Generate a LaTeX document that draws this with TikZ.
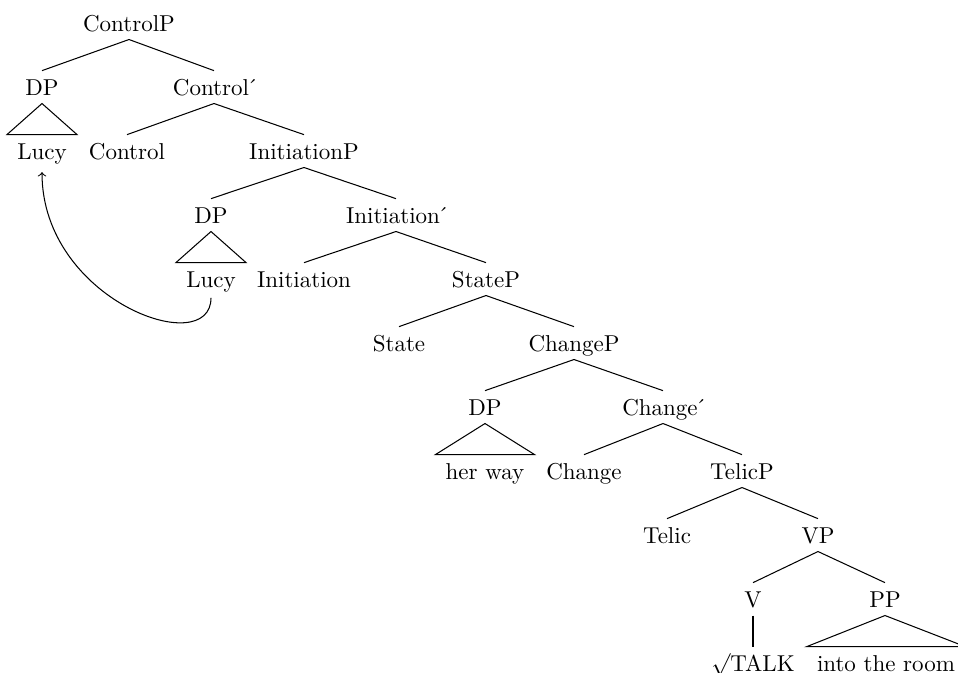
\documentclass[tikz,border=0pt]{standalone}
\newcommand{\barlevel}{\kern-1.2pt´\kern-1.2pt}
\begin{document}
\begin{tikzpicture}[
  x=0.435pt, y=-0.435pt,
  tn/.style={anchor=base, inner xsep=0pt, inner ysep=0pt,
             text height=10.4pt, text depth=3.5pt},
  tri/.style={tn, inner xsep=4.3pt},
  branch/.style={line width=0.45pt},
  movearrow/.style={->, line width=0.45pt, shorten <=1pt, shorten >=2pt}
]
\useasboundingbox (0,0) rectangle (958,672);

% tree nodes, placed on their baselines
\node[tn]  (controlP)  at (129,31)  {ControlP};
\node[tn]  (dpA)       at (42,95)   {DP};
\node[tn]  (controlB)  at (214,95)  {Control\barlevel};
\node[tri] (lucyA)     at (42,159)  {Lucy};
\node[tn]  (control)   at (127,159) {Control};
\node[tn]  (initP)     at (304,159) {InitiationP};
\node[tn]  (dpB)       at (211,223) {DP};
\node[tn]  (initB)     at (396,223) {Initiation\barlevel};
\node[tri] (lucyB)     at (211,287) {Lucy};
\node[tn]  (init)      at (304,287) {Initiation};
\node[tn]  (stateP)    at (486,287) {StateP};
\node[tn]  (state)     at (399,351) {State};
\node[tn]  (changeP)   at (574,351) {ChangeP};
\node[tn]  (dpC)       at (485,415) {DP};
\node[tn]  (changeB)   at (663,415) {Change\barlevel};
\node[tri] (herway)    at (485,479) {her way};
\node[tn]  (change)    at (584,479) {Change};
\node[tn]  (telicP)    at (742,479) {TelicP};
\node[tn]  (telic)     at (667,543) {Telic};
\node[tn]  (vp)        at (818,543) {VP};
\node[tn]  (v)         at (753,607) {V};
\node[tn]  (pp)        at (885,607) {PP};
\node[tn]  (talk)      at (753,671) {$\surd$TALK};
\node[tri] (room)      at (886,671) {into the room};

% branches
\draw[branch] (controlP.south) -- (dpA.north);
\draw[branch] (controlP.south) -- (controlB.north);
\draw[branch] (controlB.south) -- (control.north);
\draw[branch] (controlB.south) -- (initP.north);
\draw[branch] (initP.south) -- (dpB.north);
\draw[branch] (initP.south) -- (initB.north);
\draw[branch] (initB.south) -- (init.north);
\draw[branch] (initB.south) -- (stateP.north);
\draw[branch] (stateP.south) -- (state.north);
\draw[branch] (stateP.south) -- (changeP.north);
\draw[branch] (changeP.south) -- (dpC.north);
\draw[branch] (changeP.south) -- (changeB.north);
\draw[branch] (changeB.south) -- (change.north);
\draw[branch] (changeB.south) -- (telicP.north);
\draw[branch] (telicP.south) -- (telic.north);
\draw[branch] (telicP.south) -- (vp.north);
\draw[branch] (vp.south) -- (v.north);
\draw[branch] (vp.south) -- (pp.north);
\draw[branch] (v.south) -- (talk.north);

% roof triangles over unanalysed phrases
\draw[branch] (dpA.south) -- (lucyA.north west) -- (lucyA.north east) -- cycle;
\draw[branch] (dpB.south) -- (lucyB.north west) -- (lucyB.north east) -- cycle;
\draw[branch] (dpC.south) -- (herway.north west) -- (herway.north east) -- cycle;
\draw[branch] (pp.south) -- (room.north west) -- (room.north east) -- cycle;

% movement of the subject
\draw[movearrow] (lucyB.south) .. controls +(0,65) and +(0,133) .. (lucyA.south);
\end{tikzpicture}
\end{document}
